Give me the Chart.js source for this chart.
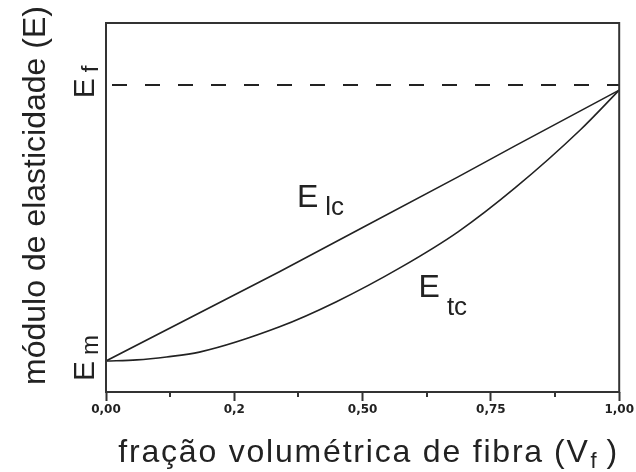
<!DOCTYPE html>
<html>
<head>
<meta charset="utf-8">
<script src="https://cdn.jsdelivr.net/npm/chart.js@4"></script>
<style>
  html, body { margin: 0; padding: 0; background: #ffffff; }
  #wrap { width: 636px; height: 472px; }
</style>
</head>
<body>
<div id="wrap"><canvas id="chart" width="636" height="472"></canvas></div>
<script>
// Longitudinal modulus (rule of mixtures), E_lc, against fibre volume fraction
const lcFraction = [0, 0.337, 0.502, 0.686, 0.797, 1];
const lcModulus  = [8.4, 32.5, 44.7, 58.3, 66.7, 81.8];

// Transverse modulus, E_tc, against fibre volume fraction
const tcFraction = [0, 0.06, 0.118, 0.182, 0.337, 0.448, 0.576, 0.686, 0.797, 0.924, 1];
const tcModulus  = [8.4, 8.7, 9.5, 10.8, 17.6, 24.4, 33.9, 43.4, 55.3, 71.0, 81.8];

// Matrix and fibre moduli marked on the vertical axis
const yTickValues = [8.4, 83.2];
const yTickMain   = ['E', 'E'];
const yTickSub    = ['m', 'f'];
const fibreModulus = 83.2;

// Horizontal axis ticks
const xTickValues = [0, 0.25, 0.5, 0.75, 1];
const xTickLabels = ['0,00', '0,2', '0,50', '0,75', '1,00'];
const xMinorTicks = [0.125, 0.375, 0.625, 0.875];

// Curve names
const curveMain = ['E', 'E'];
const curveSub  = ['lc', 'tc'];

// Where the curve names sit (data coordinates of the "E" baseline start) and how the subscript is offset
const curveLabelStyle = [
  { x: 0.372, y: 50.1, subDx: 7, subDy: 8 },
  { x: 0.609, y: 25.7, subDx: 7, subDy: 18 }
];

const INK = '#222222';
const FRAME = '#333333';
const FONT = '"Liberation Sans", Arial, sans-serif';

function pts(xs, ys) { return xs.map((x, i) => ({ x: x, y: ys[i] })); }

const decorations = {
  id: 'decorations',
  afterDatasetsDraw(chart) {
    const ctx = chart.ctx;
    const a = chart.chartArea;
    const xs = chart.scales.x;
    const ys = chart.scales.y;
    ctx.save();

    // plot frame
    ctx.strokeStyle = FRAME;
    ctx.lineWidth = 2;
    ctx.strokeRect(a.left, a.top, a.right - a.left, a.bottom - a.top);

    // minor ticks on the horizontal axis
    ctx.beginPath();
    xMinorTicks.forEach(v => {
      const px = Math.round(xs.getPixelForValue(v));
      ctx.moveTo(px, a.bottom);
      ctx.lineTo(px, a.bottom + 5);
    });
    ctx.stroke();

    ctx.fillStyle = INK;
    ctx.textBaseline = 'alphabetic';

    // curve names with subscripts
    curveMain.forEach((m, i) => {
      const s = curveLabelStyle[i];
      const px = xs.getPixelForValue(s.x);
      const py = ys.getPixelForValue(s.y);
      ctx.textAlign = 'left';
      ctx.font = '32px ' + FONT;
      ctx.fillText(m, px, py);
      const w = ctx.measureText(m).width;
      ctx.font = '26px ' + FONT;
      ctx.fillText(curveSub[i], px + w + s.subDx, py + s.subDy);
    });

    // rotated tick labels E_m and E_f on the vertical axis
    yTickValues.forEach((v, i) => {
      const py = ys.getPixelForValue(v);
      ctx.save();
      ctx.translate(a.left - 12, py);
      ctx.rotate(-Math.PI / 2);
      ctx.font = '30px ' + FONT;
      const w1 = ctx.measureText(yTickMain[i]).width;
      ctx.font = '24px ' + FONT;
      const w2 = ctx.measureText(yTickSub[i]).width;
      const gap = 6;
      const total = w1 + gap + w2;
      const x0 = -total / 2 + 3;
      ctx.textAlign = 'left';
      ctx.font = '30px ' + FONT;
      ctx.fillText(yTickMain[i], x0, 0);
      ctx.font = '24px ' + FONT;
      ctx.fillText(yTickSub[i], x0 + w1 + gap, 4);
      ctx.restore();
    });

    // vertical axis title
    ctx.save();
    ctx.translate(a.left - 61, (a.top + a.bottom) / 2 - 12);
    ctx.rotate(-Math.PI / 2);
    ctx.textAlign = 'center';
    ctx.font = '32px ' + FONT;
    ctx.fillText('módulo de elasticidade (E)', 0, 0);
    ctx.restore();

    // horizontal axis title with subscript
    ctx.save();
    ctx.letterSpacing = '1.8px';
    ctx.font = '32px ' + FONT;
    const t1 = 'fração volumétrica de fibra', t2 = '(V', t3 = ')';
    const w1 = ctx.measureText(t1).width;
    const w2 = ctx.measureText(t2).width;
    const w3 = ctx.measureText(t3).width;
    ctx.font = '22px ' + FONT;
    const ws = ctx.measureText('f').width;
    const gapA = 10, gapS = 1, gapB = 8;
    const total = w1 + gapA + w2 + gapS + ws + gapB + w3;
    let x = (a.left + a.right) / 2 - total / 2 + 6;
    const base = a.bottom + 70;
    ctx.textAlign = 'left';
    ctx.font = '32px ' + FONT;
    ctx.fillText(t1, x, base); x += w1 + gapA;
    ctx.fillText(t2, x, base); x += w2 + gapS;
    ctx.font = '22px ' + FONT;
    ctx.fillText('f', x, base + 6); x += ws + gapB;
    ctx.font = '32px ' + FONT;
    ctx.fillText(t3, x, base);
    ctx.restore();

    ctx.restore();
  }
};

new Chart(document.getElementById('chart'), {
  type: 'scatter',
  data: {
    datasets: [
      {
        label: 'Ef',
        data: pts([0, 1], [fibreModulus, fibreModulus]),
        showLine: true,
        borderColor: INK,
        borderWidth: 2,
        borderDash: [15, 18],
        borderDashOffset: 27,
        pointRadius: 0,
        tension: 0
      },
      {
        label: 'E_lc',
        data: pts(lcFraction, lcModulus),
        showLine: true,
        borderColor: INK,
        borderWidth: 1.6,
        pointRadius: 0,
        tension: 0
      },
      {
        label: 'E_tc',
        data: pts(tcFraction, tcModulus),
        showLine: true,
        borderColor: INK,
        borderWidth: 1.6,
        pointRadius: 0,
        cubicInterpolationMode: 'monotone'
      }
    ]
  },
  options: {
    responsive: false,
    animation: false,
    events: [],
    layout: { padding: { left: 106, right: 14, top: 23, bottom: 0 } },
    plugins: { legend: { display: false }, tooltip: { enabled: false } },
    scales: {
      x: {
        type: 'linear',
        min: 0,
        max: 1,
        afterBuildTicks(scale) { scale.ticks = xTickValues.map(v => ({ value: v })); },
        afterFit(scale) { scale.height = 80; },
        border: { display: false },
        grid: {
          display: true,
          drawOnChartArea: false,
          drawTicks: true,
          tickLength: 9,
          tickWidth: 2,
          tickColor: FRAME
        },
        ticks: {
          color: INK,
          padding: 2,
          maxRotation: 0,
          autoSkip: false,
          font: { family: '"DejaVu Sans", sans-serif', size: 12, weight: 'bold' },
          callback(value) {
            const i = xTickValues.indexOf(value);
            return i >= 0 ? xTickLabels[i] : '';
          }
        }
      },
      y: {
        type: 'linear',
        min: 0,
        max: 100,
        display: false
      }
    }
  },
  plugins: [decorations]
});
</script>
</body>
</html>
